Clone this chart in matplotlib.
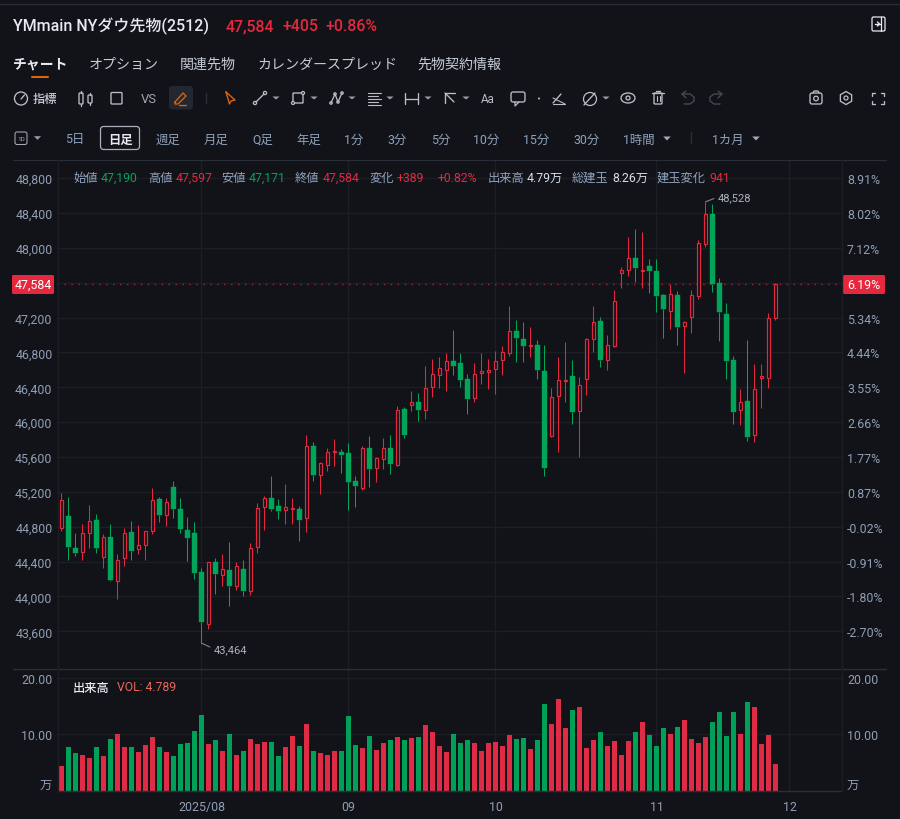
import matplotlib
matplotlib.use("Agg")
import matplotlib.pyplot as plt
from matplotlib.patches import Rectangle, FancyBboxPatch, Circle, Polygon

plt.rcParams['font.family'] = ['Roboto', 'Noto Sans CJK JP', 'DejaVu Sans']

# daily candles
opens = [44786, 44920, 44552, 44506, 44728, 44878, 44457, 44679, 44174, 44438,
         44740, 44541, 44594, 44747, 45118, 44935, 45252, 45004, 44763, 44728,
         44277, 43680, 44399, 44243, 44304, 44120, 44315, 44059, 44568, 45027,
         45126, 45034, 44996, 45005, 45008, 44897, 45726, 45393, 45512, 45653,
         45661, 45642, 45328, 45248, 45703, 45478, 45581, 45707, 45504, 46151,
         46200, 46231, 46139, 46407, 46545, 46602, 46705, 46675, 46495, 46273,
         46564, 46579, 46614, 46717, 46793, 47050, 46954, 46870, 46885, 46583,
         45837, 46296, 46468, 46533, 46128, 46491, 46950, 47157, 46717, 46874,
         47708, 47750, 47880, 47730, 47788, 47738, 47459, 47275, 47455, 47103,
         47210, 47451, 48040, 48388, 47593, 47237, 46717, 46143, 46243, 45849,
         46506, 46510, 47190]
highs = [45184, 45138, 44725, 44835, 45050, 44950, 44717, 44832, 44487, 44786,
         44866, 44820, 44755, 45241, 45138, 45130, 45321, 45126, 44912, 44858,
         44331, 44399, 44438, 44487, 44621, 44392, 44419, 44610, 45073, 45149,
         45379, 45118, 45294, 45126, 45034, 45849, 45768, 45539, 45703, 45806,
         45692, 45761, 45382, 45722, 45837, 45596, 45814, 45852, 46181, 46170,
         46353, 46338, 46640, 46724, 46744, 46790, 47057, 46793, 46549, 46675,
         46793, 46721, 46820, 46877, 47329, 47168, 47145, 47088, 46939, 46889,
         46392, 46747, 46916, 46709, 46522, 46962, 47336, 47203, 47000, 47512,
         47776, 48121, 48216, 48182, 47868, 47872, 47470, 47585, 47501, 47157,
         47512, 48086, 48528, 48507, 47650, 47371, 46755, 46380, 46939, 46663,
         46663, 47252, 47597]
lows = [44747, 44422, 44461, 44422, 44560, 44503, 44323, 44178, 43971, 44350,
        44419, 44487, 44422, 44713, 44858, 44812, 44904, 44728, 44411, 44204,
        43464, 43631, 44032, 44120, 43894, 44078, 44002, 44021, 44499, 44767,
        44977, 44889, 44832, 44828, 44640, 44744, 45328, 45175, 45443, 45497,
        45416, 44992, 45026, 45217, 45252, 45313, 45462, 45405, 45497, 45822,
        46128, 46013, 46032, 46288, 46392, 46357, 46537, 46407, 46093, 46227,
        46438, 46380, 46327, 46537, 46755, 46686, 46694, 46747, 46499, 45386,
        45830, 45661, 46235, 45979, 45604, 46315, 46809, 46637, 46594, 46866,
        47543, 47677, 47608, 47543, 47482, 47260, 46969, 47069, 46889, 46568,
        47027, 47409, 48014, 47489, 46935, 46495, 45982, 45971, 45780, 45776,
        46162, 46392, 47171]
closes = [45111, 44572, 44503, 44732, 44870, 44556, 44679, 44185, 44419, 44725,
          44526, 44594, 44747, 45107, 44935, 45080, 45004, 44774, 44671, 44269,
          43703, 44392, 44258, 44319, 44120, 44353, 44063, 44552, 45015, 45130,
          45008, 44981, 45027, 45011, 44878, 45730, 45390, 45531, 45657, 45665,
          45627, 45317, 45271, 45699, 45462, 45588, 45699, 45520, 46143, 45852,
          46227, 46139, 46392, 46552, 46617, 46702, 46644, 46484, 46269, 46556,
          46591, 46598, 46698, 46801, 47042, 46962, 46877, 46881, 46602, 45474,
          46292, 46480, 46480, 46120, 46430, 46954, 47153, 46717, 46885, 47386,
          47750, 47880, 47769, 47742, 47734, 47451, 47294, 47470, 47096, 47153,
          47455, 48052, 48385, 47585, 47268, 46705, 46120, 46227, 45829, 46376,
          46529, 47195, 47584]
volumes = [4.35, 7.82, 6.76, 6.41, 5.76, 7.82, 6.12, 9.24, 10.06, 7.82,
           7.82, 6.94, 8.06, 9.59, 7.82, 6.82, 6.24, 8.29, 8.47, 10.59,
           13.47, 8.29, 8.94, 7.12, 10.12, 6.41, 7.12, 9.24, 8.24, 8.65,
           8.71, 6.12, 7.76, 9.65, 7.94, 11.88, 7.12, 6.71, 6.41, 7.00,
           7.06, 13.24, 8.18, 7.53, 9.76, 7.29, 8.53, 8.94, 9.53, 9.06,
           9.35, 9.53, 11.65, 10.35, 7.88, 6.82, 10.12, 8.41, 9.06, 8.41,
           7.06, 8.41, 8.71, 8.00, 9.82, 9.18, 9.29, 7.35, 8.94, 15.47,
           11.88, 16.35, 11.18, 14.24, 14.82, 7.53, 8.94, 10.47, 7.88, 8.76,
           6.41, 8.82, 10.35, 12.24, 9.94, 8.00, 11.06, 10.12, 11.35, 12.47,
           9.24, 8.53, 9.53, 12.18, 13.88, 9.76, 14.00, 10.12, 15.76, 14.94,
           8.29, 9.82, 4.79]

price_ticks = [48800, 48400, 48000, 47600, 47200, 46800, 46400, 46000, 45600, 45200, 44800, 44400, 44000, 43600]
price_labels = ['48,800', '48,400', '48,000', '', '47,200', '46,800', '46,400', '46,000', '45,600', '45,200', '44,800', '44,400', '44,000', '43,600']
pct_labels = ['8.91%', '8.02%', '7.12%', '', '5.34%', '4.44%', '3.55%', '2.66%', '1.77%', '0.87%', '-0.02%', '-0.91%', '-1.80%', '-2.70%']
month_pos = [20, 41, 62, 85, 104]
month_labels = ['2025/08', '09', '10', '11', '12']
vol_ticks = [20, 10]
vol_labels = ['20.00', '10.00']
last_close = 47584
low_mark = (20, 43464)
high_mark = (92, 48528)

BG = '#121318'
GRID = '#1c1e24'
LINE = '#2a2e38'
RED = '#e6283f'
GREEN = '#00a55a'
VOLRED = '#e02b47'
VOLGREEN = '#00a058'
TICK = '#8f9fb5'
WHITE = '#e6ebf2'
SOFT = '#c4ccd8'
BLUE = '#8fa3bd'
ORANGE = '#d9640f'
ICON = '#b9bec7'
DIM = '#464b54'

W, H = 900, 820
fig = plt.figure(figsize=(W / 100, H / 100), dpi=100, facecolor=BG)


def pane(left, right, top, bottom):
    return fig.add_axes([left / W, 1 - bottom / H, (right - left) / W, (bottom - top) / H], facecolor=BG)


def style(ax):
    for s in ax.spines.values():
        s.set_visible(False)
    ax.set_xlim(-0.571, 111.46)
    ax.set_axisbelow(True)
    ax.set_xticks(month_pos)
    ax.grid(True, color=GRID, lw=1)
    ax.tick_params(length=0, labelsize=8.9, colors=TICK)


# price pane
ax = pane(57.5, 841.7, 161, 670)
style(ax)
ax.set_ylim(43167, 49008)
ax.set_yticks(price_ticks)
ax.set_yticklabels(price_labels, color=TICK)
ax.tick_params(axis='x', labelbottom=False)
ax.tick_params(axis='y', pad=3.6)

for i in range(len(opens)):
    up = closes[i] >= opens[i]
    col = RED if up else GREEN
    top = max(opens[i], closes[i])
    bot = min(opens[i], closes[i])
    ax.plot([i, i], [bot, lows[i]], color=col, lw=0.75, solid_capstyle='butt', zorder=2)
    ax.plot([i, i], [top, highs[i]], color=col, lw=0.75, solid_capstyle='butt', zorder=2)
    if up:
        ax.add_patch(Rectangle((i - 0.27, bot), 0.54, top - bot, facecolor=BG, edgecolor=col, lw=0.85, zorder=3))
    else:
        ax.add_patch(Rectangle((i - 0.34, bot), 0.68, top - bot, facecolor=col, edgecolor=col, lw=0.3, zorder=3))

ax.axhline(last_close, color=RED, lw=1, ls=(0, (1, 4)), alpha=0.7, zorder=1)

# hi / lo callouts
ax.annotate(f'{low_mark[1]:,}', xy=low_mark, xytext=(9, -4.2), textcoords='offset points',
            color='#aab4c3', fontsize=8, va='center',
            arrowprops=dict(arrowstyle='-', color='#7d838d', lw=0.8, shrinkA=1, shrinkB=0, relpos=(0, 0.5)))
ax.annotate(f'{high_mark[1]:,}', xy=high_mark, xytext=(9, 3.5), textcoords='offset points',
            color='#aab4c3', fontsize=8, va='center',
            arrowprops=dict(arrowstyle='-', color='#7d838d', lw=0.8, shrinkA=1, shrinkB=0, relpos=(0, 0.5)))

ax2 = ax.twinx()
for s in ax2.spines.values():
    s.set_visible(False)
ax2.set_ylim(ax.get_ylim())
ax2.set_yticks(price_ticks)
ax2.set_yticklabels(pct_labels, color=TICK)
ax2.tick_params(length=0, labelsize=8.9, pad=3.8)

# volume pane
vx = pane(57.5, 841.7, 670, 791.7)
style(vx)
vx.set_ylim(0, 21.6)
vx.set_xticklabels(month_labels, color=TICK)
vx.tick_params(axis='x', pad=6.5)
vx.set_yticks(vol_ticks)
vx.set_yticklabels(vol_labels, color=TICK)
vx.tick_params(axis='y', pad=3.6)
vol_cols = [VOLRED if c >= o else VOLGREEN for o, c in zip(opens, closes)]
vx.bar(range(len(volumes)), volumes, width=0.72, color=vol_cols, zorder=3)

vx2 = vx.twinx()
for s in vx2.spines.values():
    s.set_visible(False)
vx2.set_ylim(vx.get_ylim())
vx2.set_yticks(vol_ticks)
vx2.set_yticklabels(vol_labels, color=TICK)
vx2.tick_params(length=0, labelsize=8.9, pad=3.8)

# everything around the chart, in pixel coordinates
ui = fig.add_axes([0, 0, 1, 1], facecolor='none', zorder=10)
ui.set_xlim(0, W)
ui.set_ylim(H, 0)
ui.axis('off')


def label(x, y, s, color=SOFT, size=8.6, weight='normal', ha='left'):
    ui.text(x, y, s, color=color, fontsize=size, fontweight=weight, ha=ha, va='center')


def seg(pts, color=ICON, lw=0.95):
    ui.plot([p[0] for p in pts], [p[1] for p in pts], color=color, lw=lw, solid_capstyle='round')


def box(x0, y0, x1, y1, color=ICON, lw=0.95, fill='none', rad=1.5):
    ui.add_patch(FancyBboxPatch((x0, y0), x1 - x0, y1 - y0, boxstyle=f'round,pad=0,rounding_size={rad}',
                                facecolor=fill, edgecolor=color, lw=lw))


def dot(x, y, r=1.8, color=ICON, fill='none', lw=0.9):
    ui.add_patch(Circle((x, y), r, facecolor=fill, edgecolor=color, lw=lw))


def tri(x, y, w=3.6, h=3, color='#979eaa'):
    ui.add_patch(Polygon([(x - w, y - h / 2), (x + w, y - h / 2), (x, y + h / 2)], facecolor=color, edgecolor='none'))


seg([(0, 4.5), (900, 4.5)], color='#262b35', lw=1)
seg([(13, 161), (885.5, 161)], color=LINE, lw=0.8)
seg([(13, 670), (885.5, 670)], color=LINE, lw=1)
seg([(57.5, 791.7), (841.7, 791.7)], color=LINE, lw=1)
seg([(57.5, 161), (57.5, 791.7)], color=GRID, lw=1)
seg([(841.7, 161), (841.7, 791.7)], color=GRID, lw=1)

# header
label(13, 26.5, 'YMmain NYダウ先物(2512)', color=WHITE, size=11.5, weight='medium')
label(226, 26.5, '47,584', color=RED, size=11.4, weight='medium')
label(282.5, 26.5, '+405', color=RED, size=11.4, weight='medium')
label(326, 26.5, '+0.86%', color=RED, size=11.4, weight='medium')
box(872, 18, 885, 32, color=WHITE, lw=0.9)
seg([(881, 18), (881, 32)], color=WHITE, lw=0.9)
seg([(874.5, 25), (879.5, 25)], color=WHITE, lw=1)
seg([(877.5, 23), (879.5, 25), (877.5, 27)], color=WHITE, lw=1)

# tabs
label(13, 64.5, 'チャート', color=WHITE, size=10, weight='bold')
label(89, 64.5, 'オプション', color=SOFT, size=10.1)
label(180, 64.5, '関連先物', color=SOFT, size=10.1)
label(257, 64.5, 'カレンダースプレッド', color=SOFT, size=10.1)
label(417, 64.5, '先物契約情報', color=SOFT, size=10.1)
seg([(32, 78), (48, 78)], color=ORANGE, lw=1.5)

# drawing toolbar
dot(21, 99.5, r=6.5, lw=0.95)
seg([(21, 100), (24.5, 96)])
label(33, 100, '指標', color=SOFT, size=8.8, weight='medium')
for cx, t, b in [(81, 94, 105), (90, 96, 104)]:
    box(cx - 2, t, cx + 2, b, rad=1)
    seg([(cx, t - 2), (cx, t)])
    seg([(cx, b), (cx, b + 2)])
box(111, 93.5, 122, 105, rad=1)
label(149, 99.5, 'VS', color='#a0a6b0', size=9.4, ha='center')
box(169, 87, 193, 110.5, color='none', fill='#232730', rad=3)
seg([(175, 103), (183, 94), (186, 97), (178, 105), (175, 105), (175, 103)], color=ORANGE, lw=0.95)
seg([(179, 106), (186, 106)], color=ORANGE, lw=0.95)
seg([(205.5, 94), (205.5, 104)], color='#2d3038', lw=1)
seg([(226, 93), (235, 101), (231, 102), (229.5, 105), (226, 93)], color=ORANGE, lw=1)
dot(255, 104, 1.6)
dot(265, 94, 1.6)
seg([(256, 103), (264, 95)])
tri(276, 99)
box(293, 94, 303, 104, rad=0.5)
dot(293, 104, 1.5, fill=BG)
dot(303, 94, 1.5, fill=BG)
tri(314, 99)
seg([(331, 104), (335, 95), (338, 103), (342, 94)], lw=0.9)
dot(331, 104, 1.2, fill=BG)
dot(335, 95, 1.2, fill=BG)
dot(338, 103, 1.2, fill=BG)
dot(342, 94, 1.2, fill=BG)
tri(352, 99)
for yy, x1 in [(94, 381), (97, 378), (100, 381), (103, 378), (105.5, 381)]:
    seg([(368, yy), (x1, yy)], lw=0.8)
tri(390, 99)
seg([(405, 94), (405, 105)])
seg([(418, 94), (418, 105)])
seg([(405, 99.5), (418, 99.5)])
tri(428, 99)
seg([(445, 104), (445, 94), (455, 94)])
seg([(445, 94), (454, 103)])
tri(466, 99)
label(481, 99.5, 'Aa', color=ICON, size=8.4)
box(511, 93, 525, 103, rad=2)
seg([(515, 103), (515, 107), (519, 103)], lw=0.9)
dot(539, 99.5, 0.4)
seg([(553, 104), (561, 95)])
seg([(553, 99), (565, 105)], lw=0.8)
seg([(553, 105), (565, 105)], lw=0.8)
dot(590, 100, 6.5, lw=0.9)
seg([(584, 106), (595, 94)])
tri(606, 99)
ui.add_patch(matplotlib.patches.Ellipse((628, 99), 14, 10, facecolor='none', edgecolor=ICON, lw=0.95))
dot(628, 99, 2, lw=0.95)
box(654, 94, 662, 105, rad=1)
seg([(652, 94), (664, 94)])
seg([(656, 92), (660, 92)])
seg([(656.5, 97), (656.5, 102)], lw=0.8)
seg([(659.5, 97), (659.5, 102)], lw=0.8)
seg([(686, 99), (682, 95), (686, 92)], color=DIM)
seg([(682, 95), (690, 95), (694, 98), (694, 102), (690, 105), (684, 105)], color=DIM)
seg([(718, 99), (722, 95), (718, 92)], color=DIM)
seg([(722, 95), (714, 95), (710, 98), (710, 102), (714, 105), (720, 105)], color=DIM)
box(810, 94, 822, 105, rad=2)
seg([(813, 94), (814, 92), (818, 92), (819, 94)])
dot(816, 99.5, 2.3)
ui.add_patch(matplotlib.patches.RegularPolygon((846, 99), 6, radius=6.5, facecolor='none', edgecolor=ICON, lw=0.95))
dot(846, 99, 2)
for sx, sy in [(1, 1), (-1, 1), (1, -1), (-1, -1)]:
    cx, cy = 878 + sx * 6, 99 + sy * 5.5
    seg([(cx, cy), (cx - sx * 3, cy)])
    seg([(cx, cy), (cx, cy - sy * 3)])

# period row
box(15, 133, 27, 145.5, color='#a5aab3', lw=0.75, rad=2)
label(21, 139.5, '1D', color='#a5aab3', size=4.6, ha='center')
tri(37.5, 139, w=3.6, h=3.6)
for x, s in [(65, '5日'), (156, '週足'), (204, '月足'), (252, 'Q足'), (296, '年足'), (344, '1分'), (387, '3分'),
             (431, '5分'), (473, '10分'), (523, '15分'), (573, '30分'), (623, '1時間'), (712, '1カ月')]:
    label(x, 140, s, color=BLUE, size=8.9)
box(100.5, 127.5, 139.5, 150.5, color='#a9b0bb', lw=0.9, rad=3)
label(120, 140, '日足', color=WHITE, size=8.9, weight='bold', ha='center')
tri(667, 139.5, w=3.8, h=4, color='#a0a9b8')
seg([(691, 133), (691, 144)], color='#2d3038', lw=0.9)
tri(756, 139.5, w=3.8, h=4, color='#a0a9b8')

# OHLC read-out
for x, s, c in [(73, '始値', BLUE), (101, '47,190', GREEN), (148, '高値', BLUE), (176, '47,597', RED),
                (221, '安値', BLUE), (249, '47,171', GREEN), (295, '終値', BLUE), (323, '47,584', RED),
                (369, '変化', BLUE), (397, '+389', RED), (438, '+0.82%', RED), (488, '出来高', BLUE),
                (527, '4.79万', '#d5deea'), (572, '総建玉', BLUE), (612, '8.26万', '#d5deea'), (657, '建玉変化', BLUE),
                (709, '941', RED)]:
    label(x, 178.5, s, color=c, size=8.8)

# last price badges
box(12, 276, 54, 295, color='none', fill=RED, rad=1.5)
label(33, 285.5, '47,584', color='white', size=8.9, ha='center')
box(843, 276, 885, 295, color='none', fill=RED, rad=1.5)
label(864, 285.5, '6.19%', color='white', size=8.9, ha='center')

# volume legend
label(73, 688, '出来高', color=WHITE, size=8.8, weight='medium')
label(117, 688, 'VOL: 4.789', color='#e8685c', size=8.7)
label(52, 785, '万', color=TICK, size=8.9, ha='right')
label(847, 785, '万', color=TICK, size=8.9)

fig.savefig('out.png', dpi=100, facecolor=BG)
